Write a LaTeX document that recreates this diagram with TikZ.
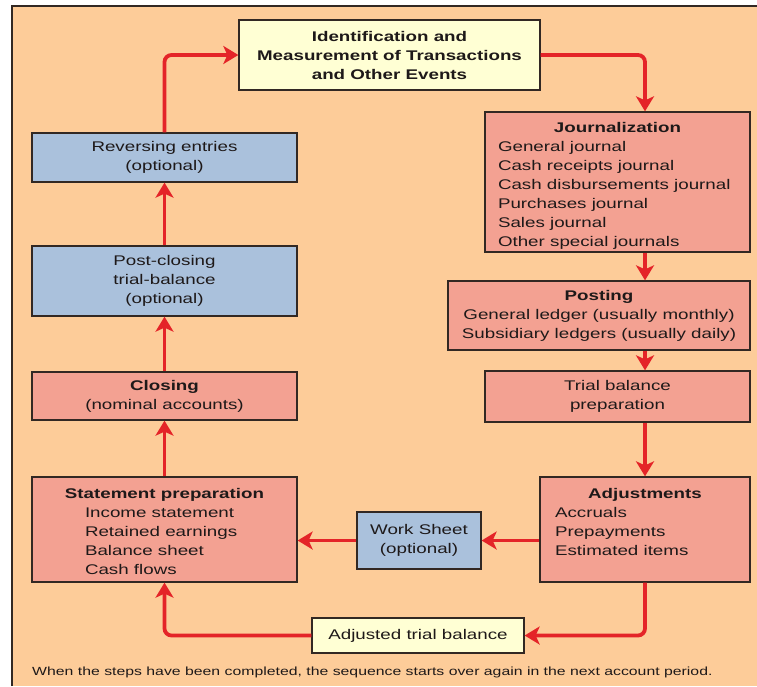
\documentclass[tikz,border=0pt]{standalone}
\usepackage{fontspec}
\setmainfont[FakeStretch=1.34]{Liberation Sans}
\usetikzlibrary{arrows.meta}

\definecolor{peach}{RGB}{253,204,153}
\definecolor{salmon}{RGB}{243,161,146}
\definecolor{slate}{RGB}{170,193,220}
\definecolor{cream}{RGB}{255,255,212}
\definecolor{flowred}{RGB}{228,36,40}
\definecolor{edge}{RGB}{50,40,35}
\definecolor{ink}{RGB}{30,25,25}

\newcommand{\boxfont}{\fontsize{14}{19}\selectfont}
\newcommand{\headstrut}{\rule{0pt}{20pt}}

\begin{document}
\begin{tikzpicture}[x=1pt, y=-1pt,
  box/.style={draw=edge, line width=1.3pt, inner sep=0pt, align=center,
    text=ink, font=\boxfont},
  pinkbox/.style={box, fill=salmon},
  bluebox/.style={box, fill=slate},
  paperbox/.style={box, fill=cream},
  flow/.style={draw=flowred, line width=3.8pt, rounded corners=7pt,
    -{Stealth[length=15pt, width=18pt, inset=4pt]}}]

  % Page and frame
  \useasboundingbox (0,0) rectangle (757,686);
  \fill[peach] (12,6) rectangle (757,686);
  \draw[edge, line width=1.2pt] (12,686) -- (12,6) -- (757,6);

  % Right column
  \node[paperbox, font=\boxfont\bfseries, minimum width=301pt, minimum height=70pt]
    (ident) at (389.5,55) {Identification and\\ Measurement of Transactions\\ and Other Events};
  \node[pinkbox, minimum width=265pt, minimum height=140pt] (journal) at (617.5,182)
    {\headstrut\textbf{Journalization}\\
     \begin{tabular}[t]{@{}p{239pt}@{}}
       General journal\\ Cash receipts journal\\ Cash disbursements journal\\
       Purchases journal\\ Sales journal\\ Other special journals
     \end{tabular}};
  \node[pinkbox, minimum width=302pt, minimum height=69pt] (posting) at (599,315.5)
    {\textbf{Posting}\\ General ledger (usually monthly)\\ Subsidiary ledgers (usually daily)};
  \node[pinkbox, minimum width=265pt, minimum height=51pt] (trial) at (617.5,396.5)
    {Trial balance\\ preparation};
  \node[pinkbox, minimum width=210pt, minimum height=105pt] (adjust) at (645,529.5)
    {\headstrut\textbf{Adjustments}\\
     \begin{tabular}[t]{@{}p{180pt}@{}}
       Accruals\\ Prepayments\\ Estimated items\\ \mbox{}
     \end{tabular}};

  % Bottom row
  \node[bluebox, minimum width=124pt, minimum height=57pt] (worksheet) at (419,540.5)
    {Work Sheet\\ (optional)};
  \node[paperbox, minimum width=212pt, minimum height=35pt] (adjtrial) at (418,635.5)
    {Adjusted trial balance};

  % Left column
  \node[pinkbox, minimum width=265pt, minimum height=105pt] (statement) at (164.5,529.5)
    {\headstrut\textbf{Statement preparation}\\
     \begin{tabular}[t]{@{}p{159pt}@{}}
       Income statement\\ Retained earnings\\ Balance sheet\\ Cash flows
     \end{tabular}};
  \node[pinkbox, minimum width=265pt, minimum height=48pt] (closing) at (164.5,396)
    {\textbf{Closing}\\ (nominal accounts)};
  \node[bluebox, minimum width=265pt, minimum height=70pt] (postclose) at (164.5,281)
    {Post-closing\\ trial-balance\\ (optional)};
  \node[bluebox, minimum width=265pt, minimum height=49pt] (reversing) at (164.5,157.5)
    {Reversing entries\\ (optional)};

  % Note
  \node[anchor=west, inner sep=0pt, text=ink, font=\fontsize{11.8}{14}\selectfont]
    (note) at (32,672) {When the steps have been completed, the sequence starts over again in the next account period.};

  % Arrows
  \draw[flow] (reversing.north) |- (ident.west);
  \draw[flow] (ident.east) -| (journal.north -| adjust.north);
  \draw[flow] (journal.south -| adjust) -- (posting.north -| adjust);
  \draw[flow] (posting.south -| adjust) -- (trial.north -| adjust);
  \draw[flow] (trial.south -| adjust) -- (adjust.north);
  \draw[flow] (adjust.west |- worksheet) -- (worksheet.east);
  \draw[flow] (worksheet.west) -- (statement.east |- worksheet);
  \draw[flow] (adjust.south) |- (adjtrial.east);
  \draw[flow] (adjtrial.west) -| (statement.south);
  \draw[flow] (statement.north) -- (closing.south);
  \draw[flow] (closing.north) -- (postclose.south);
  \draw[flow] (postclose.north) -- (reversing.south);
\end{tikzpicture}
\end{document}
